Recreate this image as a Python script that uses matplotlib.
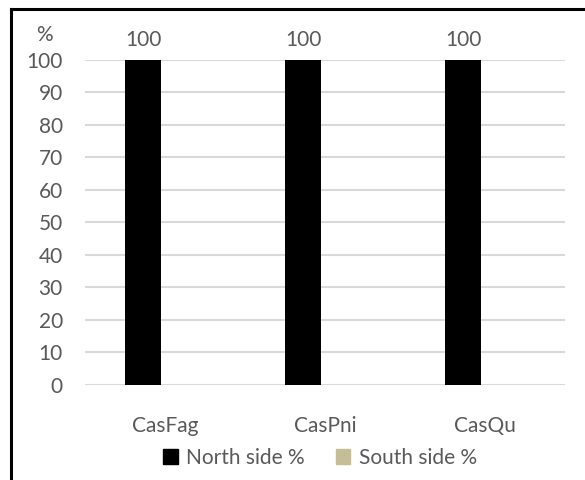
import matplotlib.pyplot as plt
import numpy as np
from matplotlib.lines import Line2D
from matplotlib.patches import Patch

categories = ["CasFag", "CasPni", "CasQu"]
north = [100, 100, 100]
south = [0, 0, 0]
yticks = [0, 10, 20, 30, 40, 50, 60, 70, 80, 90, 100]

plt.rcParams['font.family'] = ['Lato', 'DejaVu Sans']
grey = "#595959"

fig = plt.figure(figsize=(5.85, 4.8), dpi=100)
ax = fig.add_axes([85/585, 1-385/480, 480/585, 325.5/480])

x = np.arange(len(categories))
w = 0.225
ax.bar(x - 0.1375, north, w, color="black", zorder=3)
ax.bar(x + 0.0875, south, w, color="#c4bd97", zorder=3)

for xi, v in zip(x, north):
    ax.text(xi - 0.1375, v + 3, str(v), ha="center", va="bottom",
            fontsize=15, color=grey)

ax.set_xlim(-0.5, 2.5)
ax.set_ylim(0, 100)
ax.set_yticks(yticks)
ax.set_xticks(x)
ax.set_xticklabels(categories)
ax.tick_params(axis="both", length=0, labelsize=15, colors=grey)
ax.tick_params(axis="x", pad=22)
ax.tick_params(axis="y", pad=16)
ax.yaxis.grid(True, color="#d9d9d9", linewidth=1.5, zorder=0)
for s in ax.spines.values():
    s.set_visible(False)

fig.text(44/585, 1-35/480, "%", ha="center", va="center", fontsize=15, color=grey)

handles = [Patch(color="black"), Patch(color="#c4bd97")]
fig.legend(handles, ["North side %", "South side %"], loc="center",
           bbox_to_anchor=(320/585, 1-458/480), ncol=2, frameon=False,
           fontsize=15, labelcolor=grey, handlelength=0.7, handleheight=0.7,
           handletextpad=0.4, columnspacing=1.5)

# frame lines on the left and top
fig.add_artist(Line2D([11/585, 11/585], [0, 1-9/480], color="black", lw=2.2))
fig.add_artist(Line2D([11/585, 1], [1-9/480, 1-9/480], color="black", lw=2.2))

fig.savefig("out.png", dpi=100)
